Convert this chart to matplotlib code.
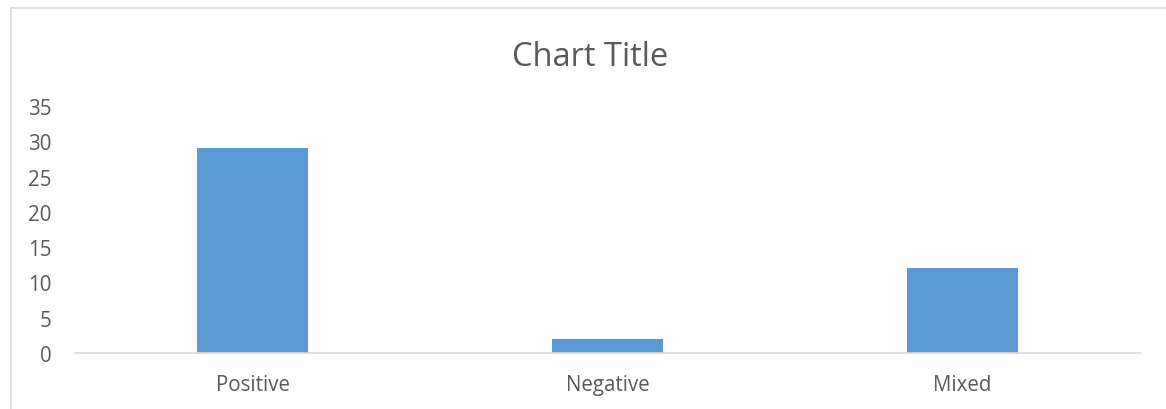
import matplotlib.pyplot as plt
from matplotlib.lines import Line2D

categories = ['Positive', 'Negative', 'Mixed']
counts = [29, 2, 12]
y_ticks = [0, 5, 10, 15, 20, 25, 30, 35]

text_color = '#595959'
plt.rcParams['font.family'] = ['Open Sans', 'DejaVu Sans']

fig = plt.figure(figsize=(11.66, 4.10), dpi=100)
ax = fig.add_axes([75 / 1166, 56 / 410, 1065 / 1166, 247 / 410])

x = range(len(categories))
ax.bar(x, counts, width=0.313, color='#5B9BD5')

ax.set_xlim(-0.5, len(categories) - 0.5)
ax.set_ylim(0, 35)
ax.set_xticks(list(x))
ax.set_xticklabels(categories)
ax.set_yticks(y_ticks)
ax.tick_params(length=0, labelsize=14.8, colors=text_color)
ax.tick_params(axis='y', pad=17)
ax.tick_params(axis='x', pad=15)

for side in ['top', 'right', 'left']:
    ax.spines[side].set_visible(False)
ax.spines['bottom'].set_color('#D9D9D9')
ax.spines['bottom'].set_linewidth(1.2)

fig.text(590 / 1166, 1 - 57 / 410, 'Chart Title', ha='center', va='center',
         fontsize=23.5, color=text_color)

# outer chart border (only top and left edges visible in the crop)
fig.add_artist(Line2D([11 / 1166, 11 / 1166], [0, 1 - 9 / 410],
                      transform=fig.transFigure, color='#D9D9D9', lw=1.2))
fig.add_artist(Line2D([11 / 1166, 1], [1 - 9 / 410, 1 - 9 / 410],
                      transform=fig.transFigure, color='#D9D9D9', lw=1.2))

fig.savefig('out.png', dpi=100)
